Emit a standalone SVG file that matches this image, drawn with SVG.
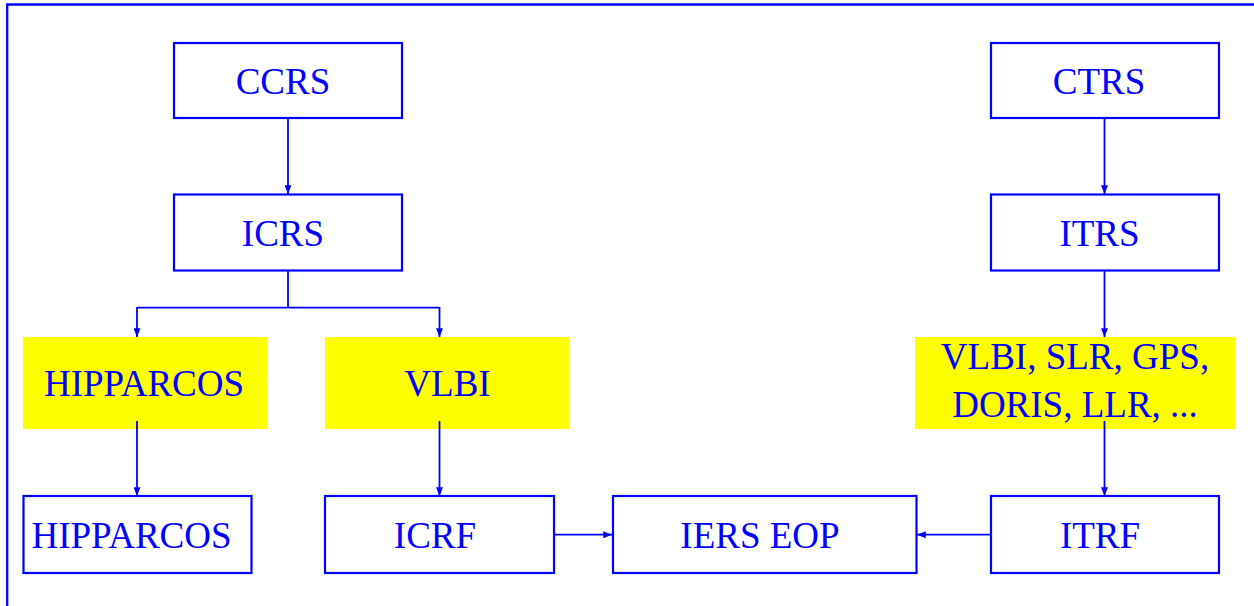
<svg xmlns="http://www.w3.org/2000/svg" width="1254" height="606" viewBox="0 0 1254 606">
<style>
.box{fill:#fff;stroke:#0000ff;stroke-width:2.2}
.ybox{fill:#ffff00;stroke:none}
.t{font-family:"Liberation Serif","Times New Roman",serif;font-size:37px;fill:#0000ff;text-anchor:middle}
.c{fill:none;stroke:#0000ff;stroke-width:1.8}
.a{marker-end:url(#ah)}
</style>
<defs>
<marker id="ah" viewBox="0 0 10 8" refX="10" refY="4" markerWidth="9" markerHeight="7" orient="auto" markerUnits="userSpaceOnUse">
<path d="M0,0 L10,4 L0,8 Z" fill="#0000ff"/>
</marker>
</defs>
<rect width="1254" height="606" fill="#fff"/>
<path d="M7.2,606 V4.5 H1254" fill="none" stroke="#0000ff" stroke-width="2.3"/>
<g id="ccrs"><rect class="box" x="174" y="43" width="228" height="75"/><text class="t" x="283" y="94">CCRS</text></g>
<g id="icrs"><rect class="box" x="174" y="194.5" width="228" height="76"/><text class="t" x="283" y="246">ICRS</text></g>
<g id="ctrs"><rect class="box" x="991" y="43" width="228" height="75"/><text class="t" x="1099" y="94">CTRS</text></g>
<g id="itrs"><rect class="box" x="991" y="194.5" width="228" height="76"/><text class="t" x="1099.5" y="246">ITRS</text></g>
<g id="hipparcos-obs"><rect class="ybox" x="23" y="337" width="244" height="92"/><text class="t" x="144" y="396">HIPPARCOS</text></g>
<g id="vlbi-obs"><rect class="ybox" x="325" y="337" width="244" height="92"/><text class="t" x="447.5" y="396">VLBI</text></g>
<g id="techniques"><rect class="ybox" x="915" y="337" width="320" height="92"/><text class="t" x="1075" y="369">VLBI, SLR, GPS,</text><text class="t" x="1075" y="417">DORIS, LLR, ...</text></g>
<g id="hipparcos"><rect class="box" x="23.5" y="496" width="228" height="77"/><text class="t" x="131.5" y="548">HIPPARCOS</text></g>
<g id="icrf"><rect class="box" x="325" y="496" width="229" height="77"/><text class="t" x="435" y="548">ICRF</text></g>
<g id="iers-eop"><rect class="box" x="613" y="496" width="303.5" height="77"/><text class="t" x="760" y="548">IERS EOP</text></g>
<g id="itrf"><rect class="box" x="991" y="496" width="228" height="77"/><text class="t" x="1100" y="548">ITRF</text></g>
<g id="connectors">
<path class="c a" d="M288,118 V194"/>
<path class="c" d="M288,270.5 V307.7 M137,307.7 H439.5"/>
<path class="c a" d="M137,307 V337"/>
<path class="c a" d="M439.5,307 V337"/>
<path class="c a" d="M137,421 V496"/>
<path class="c a" d="M439.5,421 V496"/>
<path class="c a" d="M1104.5,118 V194"/>
<path class="c a" d="M1104.5,270.5 V337"/>
<path class="c a" d="M1104.5,421 V496"/>
<path class="c a" d="M554,534.7 H612"/>
<path class="c a" d="M991,534.7 H917"/>
</g>
</svg>
